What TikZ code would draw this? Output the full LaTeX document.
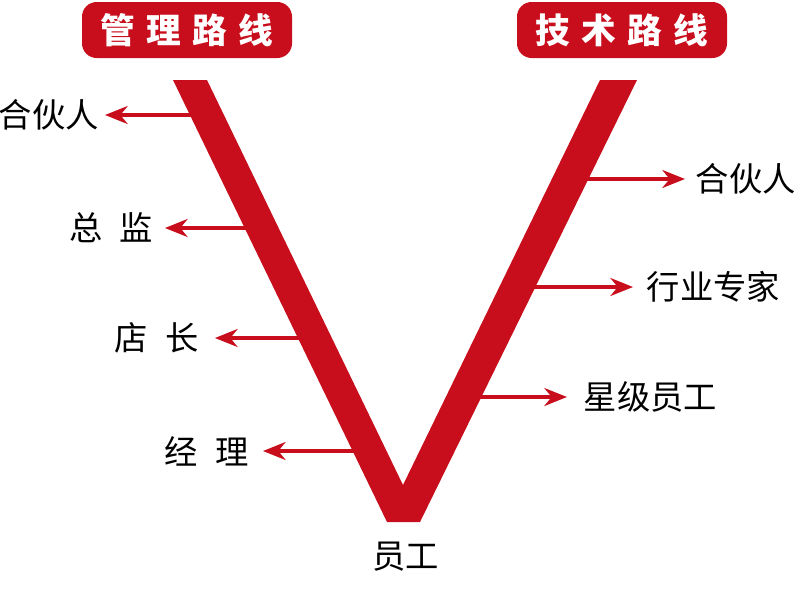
\documentclass[tikz,border=0pt]{standalone}
\usepackage{fontspec}
\newfontfamily\cjk{Noto Sans CJK SC}
\usetikzlibrary{arrows.meta}
\definecolor{vred}{RGB}{200,14,28}
\begin{document}
\begin{tikzpicture}[x=0.75pt,y=-0.75pt,
  lbl/.style={font=\cjk\fontsize{25pt}{30pt}\selectfont, text=black, inner sep=0pt},
  ttl/.style={fill=vred, rounded corners=11pt, text=white, font=\cjk\bfseries\fontsize{26pt}{30pt}\selectfont, minimum width=157.5pt, minimum height=42pt, inner sep=0pt},
  arr/.style={draw=vred, line width=2.3pt, -{Stealth[length=17pt,width=13.5pt,inset=5.5pt]}},
]
\useasboundingbox (0,0) rectangle (800,608);
% title boxes
\node[ttl] (tmgmt) at (187,30) {管\hspace{0.33em}理\hspace{0.33em}路\hspace{0.33em}线};
\node[ttl] (ttech) at (622,30) {技\hspace{0.33em}术\hspace{0.33em}路\hspace{0.33em}线};
% edge points
\coordinate (l1) at (194,115);
\coordinate (l2) at (249,228);
\coordinate (l3) at (302,338);
\coordinate (l4) at (357,451);
\coordinate (r1) at (584,179);
\coordinate (r2) at (531,287);
\coordinate (r3) at (477,397);
% labels
\node[lbl, anchor=east] (L1) at (99,115) {合伙人};
\node[lbl, anchor=east] (L2) at (153.5,228) {总\hspace{0.5em}监};
\node[lbl, anchor=east] (L3) at (199.5,338) {店\hspace{0.55em}长};
\node[lbl, anchor=east] (L4) at (249.5,451) {经\hspace{0.55em}理};
\node[lbl, anchor=west] (R1) at (695.5,179) {合伙人};
\node[lbl, anchor=west] (R2) at (646.5,287) {行业专家};
\node[lbl, anchor=west] (R3) at (583.5,397) {星级员工};
\node[lbl] (base) at (405.5,557) {员工};
% arrows
\draw[arr, shorten >=4.5pt] (l1) -- (L1.east);
\draw[arr, shorten >=8.6pt] (l2) -- (L2.east);
\draw[arr, shorten >=11.6pt] (l3) -- (L3.east);
\draw[arr, shorten >=10.1pt] (l4) -- (L4.east);
\draw[arr, shorten >=7.9pt] (r1) -- (R1.west);
\draw[arr, shorten >=10.1pt] (r2) -- (R2.west);
\draw[arr, shorten >=12.4pt] (r3) -- (R3.west);
% the V
\fill[vred] (173,80) -- (207,80) -- (403,485) -- (600,80) -- (637,80) -- (420,522) -- (387,522) -- cycle;
\end{tikzpicture}
\end{document}
